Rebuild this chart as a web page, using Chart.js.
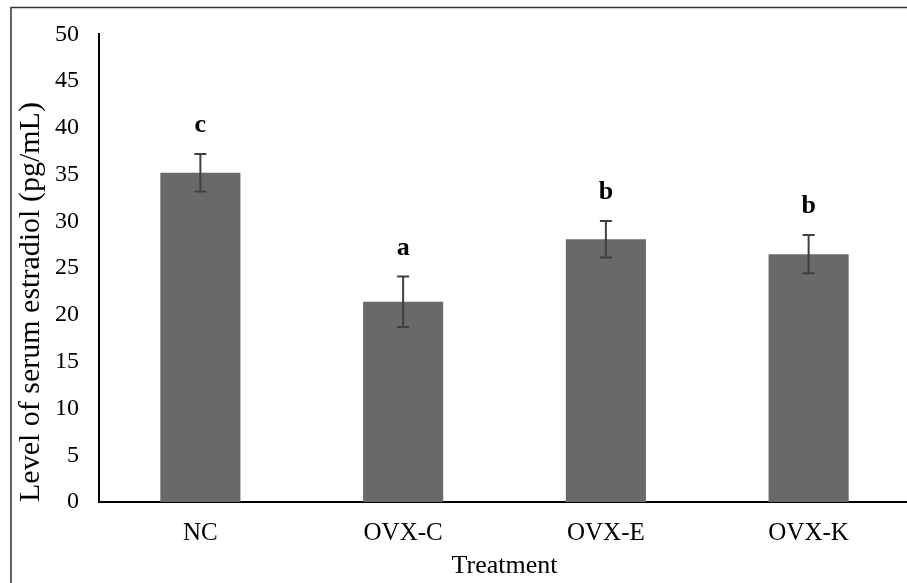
<!DOCTYPE html>
<html>
<head>
<meta charset="utf-8">
<script src="https://cdn.jsdelivr.net/npm/chart.js@4.4.0/dist/chart.umd.min.js"></script>
<style>
html, body { margin: 0; padding: 0; overflow: hidden; background: #ffffff; width: 907px; height: 583px; }
canvas { display: block; }
</style>
</head>
<body>
<canvas id="c" width="920" height="583"></canvas>
<script>
const categories = ['NC', 'OVX-C', 'OVX-E', 'OVX-K'];
const means = [35.2, 21.4, 28.1, 26.5];
const errors = [2.0, 2.7, 1.95, 2.05];
const letters = ['c', 'a', 'b', 'b'];
const yTicks = [0, 5, 10, 15, 20, 25, 30, 35, 40, 45, 50];

const serif = '"Liberation Serif", "Times New Roman", serif';

const decorPlugin = {
  id: 'decor',
  beforeDraw(chart) {
    const ctx = chart.ctx;
    ctx.save();
    ctx.strokeStyle = '#333333';
    ctx.lineWidth = 1.5;
    ctx.strokeRect(11, 7.5, 2000, 2000);
    ctx.restore();
  },
  afterDatasetsDraw(chart) {
    const ctx = chart.ctx;
    const meta = chart.getDatasetMeta(0);
    const y = chart.scales.y;
    ctx.save();
    ctx.strokeStyle = '#404040';
    ctx.lineWidth = 2;
    meta.data.forEach((bar, i) => {
      const x = bar.x;
      const top = y.getPixelForValue(means[i] + errors[i]);
      const bot = y.getPixelForValue(means[i] - errors[i]);
      ctx.beginPath();
      ctx.moveTo(x, top); ctx.lineTo(x, bot);
      ctx.moveTo(x - 6, top); ctx.lineTo(x + 6, top);
      ctx.moveTo(x - 6, bot); ctx.lineTo(x + 6, bot);
      ctx.stroke();
      ctx.fillStyle = '#000000';
      ctx.font = 'bold 26px ' + serif;
      ctx.textAlign = 'center';
      ctx.textBaseline = 'alphabetic';
      ctx.fillText(letters[i], x, top - 22);
    });
    ctx.restore();
  }
};

new Chart(document.getElementById('c'), {
  type: 'bar',
  data: {
    labels: categories,
    datasets: [{
      data: means,
      backgroundColor: '#696969',
      borderWidth: 0,
      barPercentage: 0.395,
      categoryPercentage: 1.0
    }]
  },
  options: {
    responsive: false,
    animation: false,
    devicePixelRatio: 1,
    layout: { padding: { top: 25, right: 10, bottom: 0, left: 0 } },
    plugins: { legend: { display: false }, tooltip: { enabled: false } },
    scales: {
      x: {
        type: 'category',
        grid: { display: false, drawTicks: false },
        border: { display: true, color: '#000000', width: 2 },
        ticks: { color: '#000000', font: { family: serif, size: 25 }, padding: 16, maxRotation: 0 },
        title: { display: true, text: 'Treatment', color: '#000000', font: { family: serif, size: 26 }, padding: { top: 0, bottom: 1 } },
        afterFit(scale) { scale.height = 81; }
      },
      y: {
        min: 0, max: 50,
        afterBuildTicks(scale) { scale.ticks = yTicks.map(v => ({ value: v })); },
        grid: { display: false, drawTicks: false },
        border: { display: true, color: '#000000', width: 2 },
        ticks: { color: '#000000', font: { family: serif, size: 24 }, padding: 20 },
        title: { display: true, text: 'Level of serum estradiol (pg/mL)', align: 'start', color: '#000000', font: { family: serif, size: 30 }, padding: { top: 13, bottom: 0 } },
        afterFit(scale) { scale.width = 99; }
      }
    }
  },
  plugins: [decorPlugin]
});
</script>
</body>
</html>
